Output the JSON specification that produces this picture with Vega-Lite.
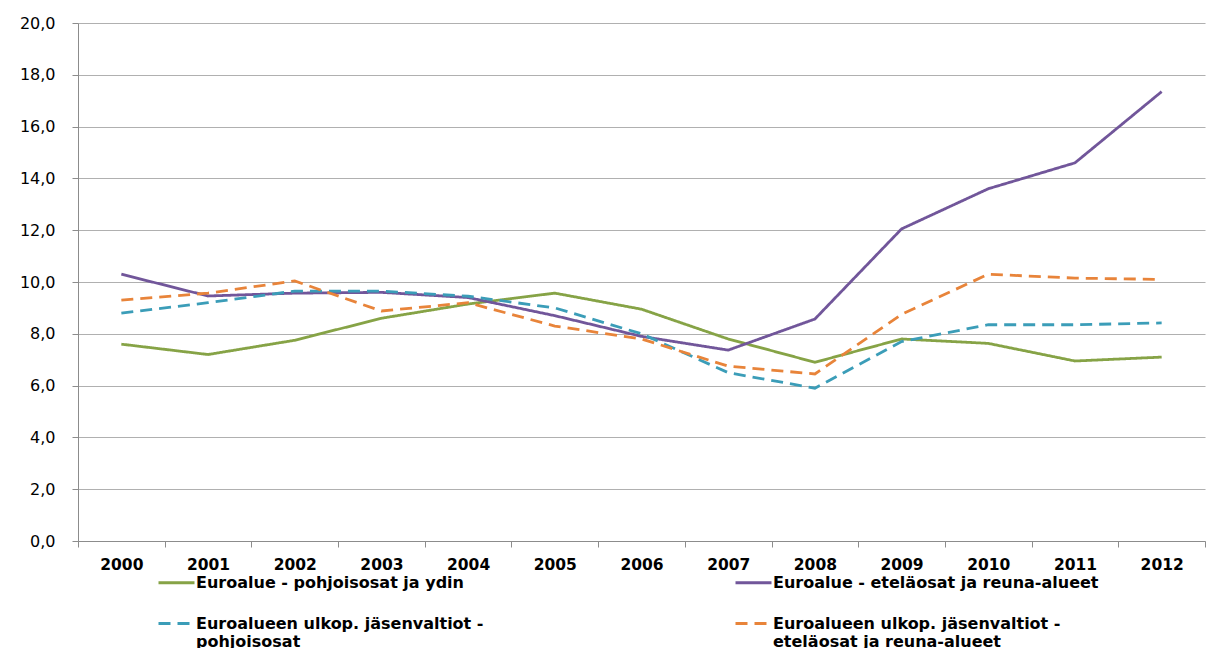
{
  "$schema": "https://vega.github.io/schema/vega-lite/v6.json",
  "width": 1127,
  "height": 518,
  "autosize": "none",
  "padding": {"left": 78, "top": 23, "right": 9, "bottom": 107},
  "background": "white",
  "datasets": {
    "main": [
      {"year": "2000", "series": "Euroalue - pohjoisosat ja ydin", "value": 7.6},
      {"year": "2001", "series": "Euroalue - pohjoisosat ja ydin", "value": 7.2},
      {"year": "2002", "series": "Euroalue - pohjoisosat ja ydin", "value": 7.75},
      {"year": "2003", "series": "Euroalue - pohjoisosat ja ydin", "value": 8.6},
      {"year": "2004", "series": "Euroalue - pohjoisosat ja ydin", "value": 9.15},
      {"year": "2005", "series": "Euroalue - pohjoisosat ja ydin", "value": 9.57},
      {"year": "2006", "series": "Euroalue - pohjoisosat ja ydin", "value": 8.95},
      {"year": "2007", "series": "Euroalue - pohjoisosat ja ydin", "value": 7.8},
      {"year": "2008", "series": "Euroalue - pohjoisosat ja ydin", "value": 6.9},
      {"year": "2009", "series": "Euroalue - pohjoisosat ja ydin", "value": 7.8},
      {"year": "2010", "series": "Euroalue - pohjoisosat ja ydin", "value": 7.63},
      {"year": "2011", "series": "Euroalue - pohjoisosat ja ydin", "value": 6.95},
      {"year": "2012", "series": "Euroalue - pohjoisosat ja ydin", "value": 7.1},
      {"year": "2000", "series": "Euroalue - eteläosat ja reuna-alueet", "value": 10.3},
      {"year": "2001", "series": "Euroalue - eteläosat ja reuna-alueet", "value": 9.46},
      {"year": "2002", "series": "Euroalue - eteläosat ja reuna-alueet", "value": 9.57},
      {"year": "2003", "series": "Euroalue - eteläosat ja reuna-alueet", "value": 9.6},
      {"year": "2004", "series": "Euroalue - eteläosat ja reuna-alueet", "value": 9.4},
      {"year": "2005", "series": "Euroalue - eteläosat ja reuna-alueet", "value": 8.7},
      {"year": "2006", "series": "Euroalue - eteläosat ja reuna-alueet", "value": 7.9},
      {"year": "2007", "series": "Euroalue - eteläosat ja reuna-alueet", "value": 7.37},
      {"year": "2008", "series": "Euroalue - eteläosat ja reuna-alueet", "value": 8.57},
      {"year": "2009", "series": "Euroalue - eteläosat ja reuna-alueet", "value": 12.05},
      {"year": "2010", "series": "Euroalue - eteläosat ja reuna-alueet", "value": 13.6},
      {"year": "2011", "series": "Euroalue - eteläosat ja reuna-alueet", "value": 14.6},
      {"year": "2012", "series": "Euroalue - eteläosat ja reuna-alueet", "value": 17.35},
      {"year": "2000", "series": "Euroalueen ulkop. jäsenvaltiot - pohjoisosat", "value": 8.8},
      {"year": "2001", "series": "Euroalueen ulkop. jäsenvaltiot - pohjoisosat", "value": 9.2},
      {"year": "2002", "series": "Euroalueen ulkop. jäsenvaltiot - pohjoisosat", "value": 9.65},
      {"year": "2003", "series": "Euroalueen ulkop. jäsenvaltiot - pohjoisosat", "value": 9.65},
      {"year": "2004", "series": "Euroalueen ulkop. jäsenvaltiot - pohjoisosat", "value": 9.45},
      {"year": "2005", "series": "Euroalueen ulkop. jäsenvaltiot - pohjoisosat", "value": 9.0},
      {"year": "2006", "series": "Euroalueen ulkop. jäsenvaltiot - pohjoisosat", "value": 8.0},
      {"year": "2007", "series": "Euroalueen ulkop. jäsenvaltiot - pohjoisosat", "value": 6.5},
      {"year": "2008", "series": "Euroalueen ulkop. jäsenvaltiot - pohjoisosat", "value": 5.9},
      {"year": "2009", "series": "Euroalueen ulkop. jäsenvaltiot - pohjoisosat", "value": 7.7},
      {"year": "2010", "series": "Euroalueen ulkop. jäsenvaltiot - pohjoisosat", "value": 8.35},
      {"year": "2011", "series": "Euroalueen ulkop. jäsenvaltiot - pohjoisosat", "value": 8.35},
      {"year": "2012", "series": "Euroalueen ulkop. jäsenvaltiot - pohjoisosat", "value": 8.42},
      {"year": "2000", "series": "Euroalueen ulkop. jäsenvaltiot - eteläosat ja reuna-alueet", "value": 9.3},
      {"year": "2001", "series": "Euroalueen ulkop. jäsenvaltiot - eteläosat ja reuna-alueet", "value": 9.57},
      {"year": "2002", "series": "Euroalueen ulkop. jäsenvaltiot - eteläosat ja reuna-alueet", "value": 10.04},
      {"year": "2003", "series": "Euroalueen ulkop. jäsenvaltiot - eteläosat ja reuna-alueet", "value": 8.88},
      {"year": "2004", "series": "Euroalueen ulkop. jäsenvaltiot - eteläosat ja reuna-alueet", "value": 9.2},
      {"year": "2005", "series": "Euroalueen ulkop. jäsenvaltiot - eteläosat ja reuna-alueet", "value": 8.3},
      {"year": "2006", "series": "Euroalueen ulkop. jäsenvaltiot - eteläosat ja reuna-alueet", "value": 7.8},
      {"year": "2007", "series": "Euroalueen ulkop. jäsenvaltiot - eteläosat ja reuna-alueet", "value": 6.75},
      {"year": "2008", "series": "Euroalueen ulkop. jäsenvaltiot - eteläosat ja reuna-alueet", "value": 6.45},
      {"year": "2009", "series": "Euroalueen ulkop. jäsenvaltiot - eteläosat ja reuna-alueet", "value": 8.75},
      {"year": "2010", "series": "Euroalueen ulkop. jäsenvaltiot - eteläosat ja reuna-alueet", "value": 10.3},
      {"year": "2011", "series": "Euroalueen ulkop. jäsenvaltiot - eteläosat ja reuna-alueet", "value": 10.15},
      {"year": "2012", "series": "Euroalueen ulkop. jäsenvaltiot - eteläosat ja reuna-alueet", "value": 10.1}
    ]
  },
  "data": {"name": "main"},
  "mark": {"type": "line", "strokeWidth": 2.8, "strokeCap": "butt"},
  "encoding": {
    "x": {
      "field": "year", "type": "ordinal", "title": null, "bandPosition": 0.5,
      "scale": {"type": "band", "paddingInner": 0, "paddingOuter": 0},
      "axis": {
        "tickBand": "extent", "labelAngle": 0, "domainColor": "#8c8c8c", "tickColor": "#8c8c8c",
        "tickSize": 6, "labelPadding": 10, "labelFont": "DejaVu Sans", "labelFontSize": 15.5,
        "labelFontWeight": "bold", "labelColor": "#000000", "labelBaseline": "top", "grid": false,
        "labelBound": false, "labelOverlap": false, "labelFlush": false, "labelAlign": "center"
      }
    },
    "y": {
      "field": "value", "type": "quantitative", "title": null,
      "scale": {"domain": [0, 20], "nice": false},
      "axis": {
        "values": [0, 2, 4, 6, 8, 10, 12, 14, 16, 18, 20],
        "labelExpr": "replace(format(datum.value, '.1f'), '.', ',')",
        "domainColor": "#8c8c8c", "tickColor": "#8c8c8c", "tickSize": 6, "labelPadding": 17,
        "gridColor": "#b0b0b0", "gridWidth": 1.2, "labelFont": "DejaVu Sans", "labelFontSize": 16,
        "labelColor": "#000000"
      }
    },
    "color": {
      "field": "series", "type": "nominal",
      "scale": {
        "domain": ["Euroalue - pohjoisosat ja ydin", "Euroalue - eteläosat ja reuna-alueet", "Euroalueen ulkop. jäsenvaltiot - pohjoisosat", "Euroalueen ulkop. jäsenvaltiot - eteläosat ja reuna-alueet"],
        "range": ["#86a346", "#71569a", "#3b9db8", "#e8843a"]
      },
      "legend": {
        "title": null, "orient": "none", "legendX": 79, "legendY": 540, "columns": 2,
        "direction": "horizontal",
        "symbolType": "stroke", "symbolSize": 1296, "symbolStrokeWidth": 3,
        "labelFont": "DejaVu Sans", "labelFontSize": 16, "labelFontWeight": "bold",
        "labelColor": "#000000", "labelLimit": 0, "labelOffset": 0,
        "labelExpr": "datum.label == 'Euroalueen ulkop. jäsenvaltiot - pohjoisosat' ? ['Euroalueen ulkop. jäsenvaltiot -', 'pohjoisosat'] : datum.label == 'Euroalueen ulkop. jäsenvaltiot - eteläosat ja reuna-alueet' ? ['Euroalueen ulkop. jäsenvaltiot -', 'eteläosat ja reuna-alueet'] : datum.label",
        "columnPadding": 245, "rowPadding": 13
      }
    },
    "strokeDash": {
      "field": "series", "type": "nominal",
      "scale": {
        "domain": ["Euroalue - pohjoisosat ja ydin", "Euroalue - eteläosat ja reuna-alueet", "Euroalueen ulkop. jäsenvaltiot - pohjoisosat", "Euroalueen ulkop. jäsenvaltiot - eteläosat ja reuna-alueet"],
        "range": [[1, 0], [1, 0], [12, 7], [12, 7]]
      },
      "legend": null
    }
  },
  "config": {
    "view": {"stroke": null},
    "font": "DejaVu Sans"
  }
}
